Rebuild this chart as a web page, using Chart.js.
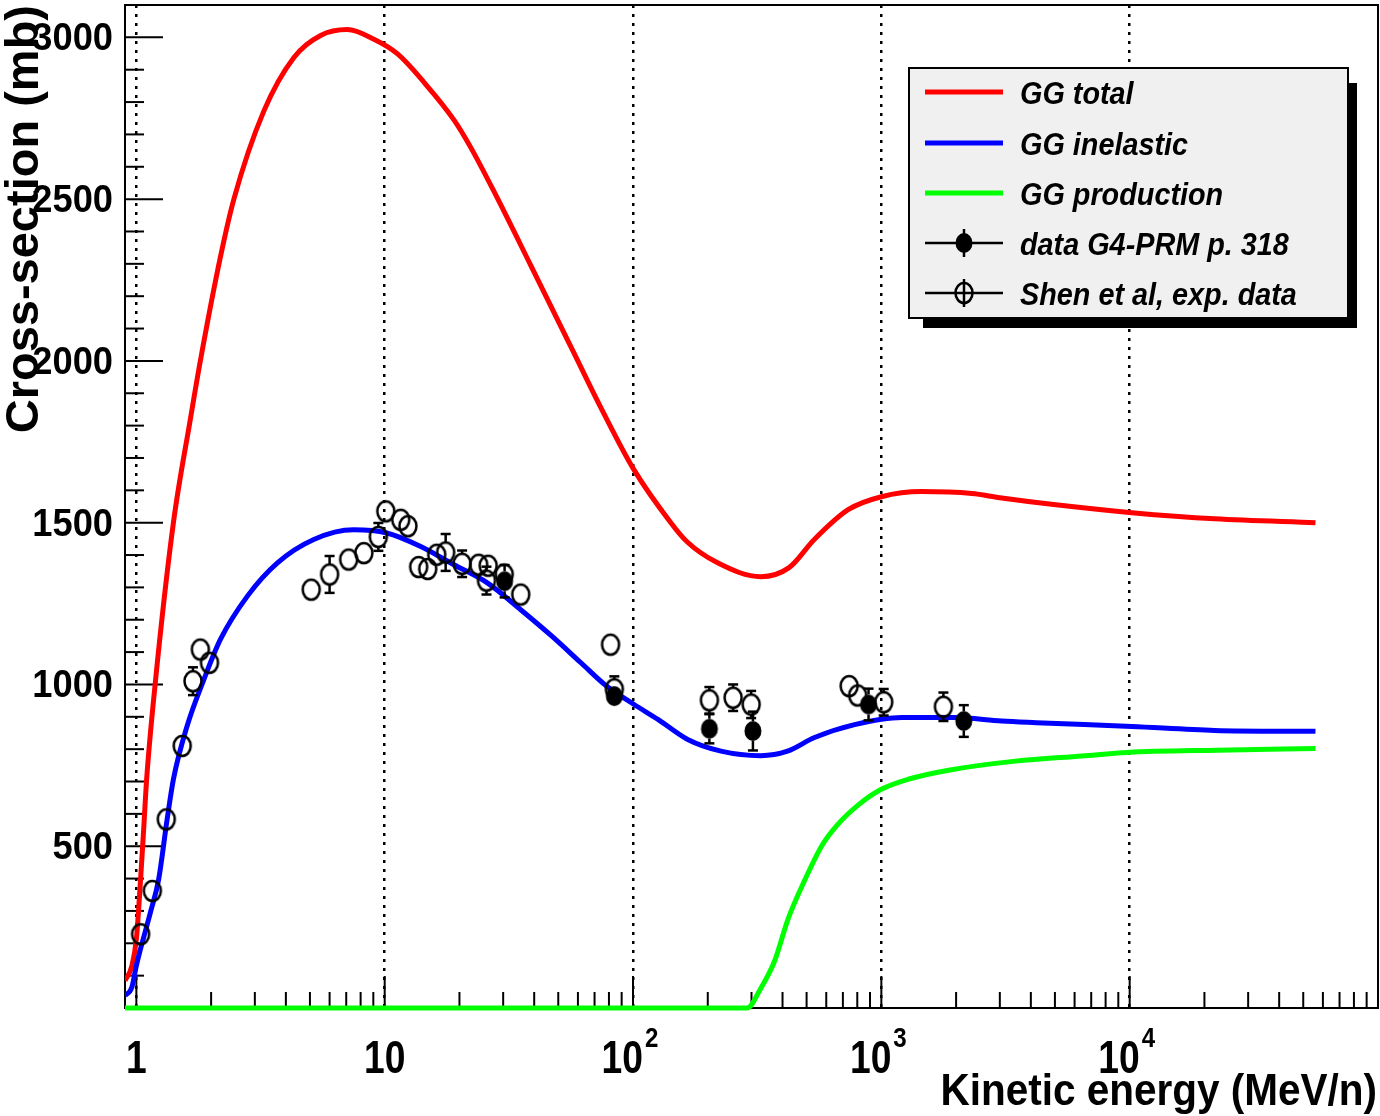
<!DOCTYPE html>
<html>
<head>
<meta charset="utf-8">
<title>GG cross-sections</title>
<script src="https://cdn.jsdelivr.net/npm/chart.js@4.4.1/dist/chart.umd.min.js"></script>
<style>
  html,body{margin:0;padding:0;background:#fff;}
  #wrap{width:1380px;height:1116px;position:relative;}
</style>
</head>
<body>
<div id="wrap"><canvas id="chart"></canvas></div>
<script>
// curves (kinetic energy in MeV/n, cross-section in mb)
const totalE  = [0.90,0.96,1.00,1.04,1.07,1.10,1.19,1.41,1.65,1.81,2.18,2.47,3.26,4.31,5.52,7.07,9.05,11.3,14.4,19.0,22.2,28.0,38.7,57.8,74.3,100.8,142,165,219,327,425,537,735,1000,1452,2314,3000,4940,10200,22000,56000];
const totalXS = [84,131,213,398,552,707,1000,1500,1820,2000,2321,2500,2772,2938,3006,3024,2994,2948,2861,2745,2660,2513,2296,2025,1855,1664,1500,1441,1376,1333,1361,1448,1540,1580,1596,1590,1577,1556,1531,1512,1500];

const inelE  = [0.90,0.96,1.00,1.14,1.23,1.33,1.41,1.60,1.87,2.18,2.80,3.69,5.18,7.5,10.2,13.9,19.0,25.9,35.3,47.0,61.7,78.2,101,126,166,226,327,419,538,780,1210,1970,3050,4200,10200,22000,56000];
const inelXS = [38,65,131,296,398,583,707,871,1015,1139,1273,1375,1448,1478,1468,1427,1370,1314,1231,1150,1067,995,938,892,830,794,780,794,836,876,898,898,887,882,870,858,855];

const prodE  = [0.90,100,288,326,372,421,490,575,660,815,1000,1283,1865,3470,6440,9800,22600,56000];
const prodXS = [0,0,0,59,146,275,393,501,563,630,676,707,735,763,779,790,797,802];

// measured points
const shenE   = [1.04,1.16,1.32,1.53,1.69,1.81,1.97,5.06,6.0,7.16,8.24,9.43,10.1,11.6,12.4,13.7,14.9,16.2,17.6,20.5,23.9,26.1,25.7,30.3,35.3,81.2,84.1,203,253,299,742,803,1022,1778];
const shenXS  = [228,362,583,810,1010,1108,1067,1293,1340,1386,1406,1456,1535,1509,1489,1363,1357,1401,1408,1373,1370,1367,1321,1340,1278,1123,985,951,959,938,995,966,945,931];
const shenErr = [0,0,0,0,43,0,0,0,57,0,0,43,0,0,0,0,0,0,57,41,0,0,43,0,0,0,40,41,41,42,0,0,41,44];

const prmE   = [30.4,84.1,203,304,888,2148];
const prmXS  = [1319,964,863,856,938,887];
const prmErr = [50,20,45,60,49,49];

const xTickVals = [1,10,100,1000,10000];
const xTickBase = ['1','10','10','10','10'];
const xTickExp  = ['','','2','3','4'];
const yTickVals = [500,1000,1500,2000,2500,3000];

const seriesNames = ['GG total','GG inelastic','GG production','data G4-PRM p. 318','Shen et al, exp. data'];
const seriesColors = ['#ff0000','#0000ff','#00ff00','#000','#000'];

const FONT = '"Liberation Sans", Arial, Helvetica, sans-serif';

function makeMark(filled){
  const c = document.createElement('canvas');
  c.width = 24; c.height = 26;
  const g = c.getContext('2d');
  g.beginPath();
  g.ellipse(12, 13, 8.5, 10, 0, 0, Math.PI*2);
  if(filled){ g.fillStyle = '#000'; g.fill(); }
  else { g.lineWidth = 2.5; g.strokeStyle = '#000'; g.stroke(); }
  return c;
}
const openMark = makeMark(false);
const fullMark = makeMark(true);

function pts(xs, ys){ return xs.map((e,i)=>({x:e, y:ys[i]})); }

function txt(ctx, s, x, y, size, align, sx, style){
  ctx.save();
  ctx.font = (style || 'bold') + ' ' + size + 'px ' + FONT;
  ctx.textAlign = align; ctx.textBaseline = 'alphabetic';
  ctx.fillStyle = '#000';
  ctx.translate(x, y); ctx.scale(sx, 1);
  ctx.fillText(s, 0, 0);
  ctx.restore();
}
function txtW(ctx, s, size, sx){
  ctx.save(); ctx.font = 'bold ' + size + 'px ' + FONT;
  const w = ctx.measureText(s).width * sx;
  ctx.restore(); return w;
}
function seg(ctx, x1, y1, x2, y2){ ctx.beginPath(); ctx.moveTo(x1,y1); ctx.lineTo(x2,y2); ctx.stroke(); }

function drawErrors(ctx, x, y, es, vs, errs){
  ctx.save(); ctx.strokeStyle = '#000'; ctx.lineWidth = 2.5;
  es.forEach((e,i)=>{
    if(!errs[i]) return;
    const px = x.getPixelForValue(e), py = y.getPixelForValue(vs[i]);
    const top = y.getPixelForValue(vs[i]+errs[i]), bot = y.getPixelForValue(vs[i]-errs[i]);
    if(top < py-10){ seg(ctx, px, top, px, py-10); seg(ctx, px-5, top, px+5, top); }
    if(bot > py+10){ seg(ctx, px, py+10, px, bot); seg(ctx, px-5, bot, px+5, bot); }
  });
  ctx.restore();
}

function drawLegend(ctx){
  ctx.save();
  ctx.fillStyle = '#000'; ctx.fillRect(923, 83, 434, 245);
  ctx.fillStyle = '#f0f0f0'; ctx.fillRect(909, 68, 439, 250);
  ctx.strokeStyle = '#000'; ctx.lineWidth = 2; ctx.strokeRect(909, 68, 439, 250);
  const rows = [92, 143, 193, 243, 293];
  rows.forEach((ry,i)=>{
    ctx.strokeStyle = seriesColors[i];
    ctx.lineWidth = i < 3 ? 5 : 2.5;
    seg(ctx, 925, ry, 1003, ry);
    if(i === 3){ seg(ctx, 964, ry-14, 964, ry+14); ctx.drawImage(fullMark, 952, ry-13); }
    if(i === 4){ seg(ctx, 964, ry-14, 964, ry+14); ctx.drawImage(openMark, 952, ry-13); }
    txt(ctx, seriesNames[i], 1020, ry+12, 32, 'left', 0.9, 'italic bold');
  });
  ctx.restore();
}

const rootPlugin = {
  id: 'rootStyle',
  beforeDatasetsDraw(chart){
    const {ctx, chartArea:a, scales:{x, y}} = chart;
    ctx.save();
    ctx.strokeStyle = '#000'; ctx.lineWidth = 2;
    ctx.strokeRect(a.left, a.top, a.right-a.left, a.bottom-a.top);
    for(let v=100; v<=3000; v+=100){
      const py = y.getPixelForValue(v);
      seg(ctx, a.left, py, a.left + (v%500===0 ? 38 : 19), py);
    }
    for(let d=1; d<=1e4; d*=10){
      for(let m=1; m<=9; m++){
        const px = x.getPixelForValue(d*m);
        seg(ctx, px, a.bottom, px, a.bottom - (m===1 ? 32 : 16));
      }
    }
    ctx.restore();
  },
  afterDatasetsDraw(chart){
    const {ctx, scales:{x, y}} = chart;
    drawErrors(ctx, x, y, shenE, shenXS, shenErr);
    drawErrors(ctx, x, y, prmE, prmXS, prmErr);
  },
  afterDraw(chart){
    const {ctx, scales:{x, y}} = chart;
    // y tick labels
    yTickVals.forEach(v => txt(ctx, String(v), 113, y.getPixelForValue(v)+13, 39, 'right', 0.93));
    // x tick labels with exponents
    xTickVals.forEach((v,i)=>{
      const px = x.getPixelForValue(v);
      const wb = txtW(ctx, xTickBase[i], 46, 0.81);
      const we = xTickExp[i] ? txtW(ctx, xTickExp[i], 28, 0.86) + 2 : 0;
      const left = px - (wb+we)/2 - (we ? 3 : 0);
      txt(ctx, xTickBase[i], left, 1073, 46, 'left', 0.81);
      if(we) txt(ctx, xTickExp[i], left + wb + 2, 1047, 28, 'left', 0.86);
    });
    // axis titles
    txt(ctx, 'Kinetic energy (MeV/n)', 1377, 1105, 45, 'right', 0.9);
    ctx.save();
    ctx.translate(38, 5); ctx.rotate(-Math.PI/2);
    txt(ctx, 'Cross-section (mb)', 0, 0, 47, 'right', 1);
    ctx.restore();
    drawLegend(ctx);
  }
};

const curve = (label, xs, ys, color) => ({
  label, data: pts(xs, ys), borderColor: color, backgroundColor: color,
  borderWidth: 5, pointRadius: 0, fill: false, cubicInterpolationMode: 'monotone'
});

new Chart(document.getElementById('chart'), {
  type: 'line',
  data: {
    datasets: [
      { label: seriesNames[4], data: pts(shenE, shenXS), showLine: false, pointStyle: openMark, pointRadius: 10 },
      { label: seriesNames[3], data: pts(prmE, prmXS), showLine: false, pointStyle: fullMark, pointRadius: 10 },
      curve(seriesNames[1], inelE, inelXS, seriesColors[1]),
      curve(seriesNames[0], totalE, totalXS, seriesColors[0]),
      Object.assign(curve(seriesNames[2], prodE, prodXS, seriesColors[2]), { clip: 6 })
    ]
  },
  options: {
    responsive: true, maintainAspectRatio: false, animation: false, events: [],
    layout: { autoPadding: false, padding: { left: 125, top: 5, right: 2, bottom: 108 } },
    plugins: { legend: { display: false }, tooltip: { enabled: false } },
    scales: {
      x: {
        type: 'logarithmic', min: 0.9, max: 1e5,
        afterBuildTicks: s => { s.ticks = xTickVals.map(v => ({ value: v })); },
        ticks: { display: false },
        grid: { drawTicks: false, color: '#000', lineWidth: 2.5 },
        border: { display: false, dash: [3, 6] }
      },
      y: {
        type: 'linear', min: 0, max: 3100,
        ticks: { display: false, stepSize: 500 },
        grid: { drawTicks: false, lineWidth: 2.5,
          color: c => (c.tick && c.tick.value > 0 && c.tick.value % 500 === 0) ? '#000' : 'rgba(0,0,0,0)' },
        border: { display: false, dash: [3, 6] }
      }
    }
  },
  plugins: [rootPlugin]
});
</script>
</body>
</html>
